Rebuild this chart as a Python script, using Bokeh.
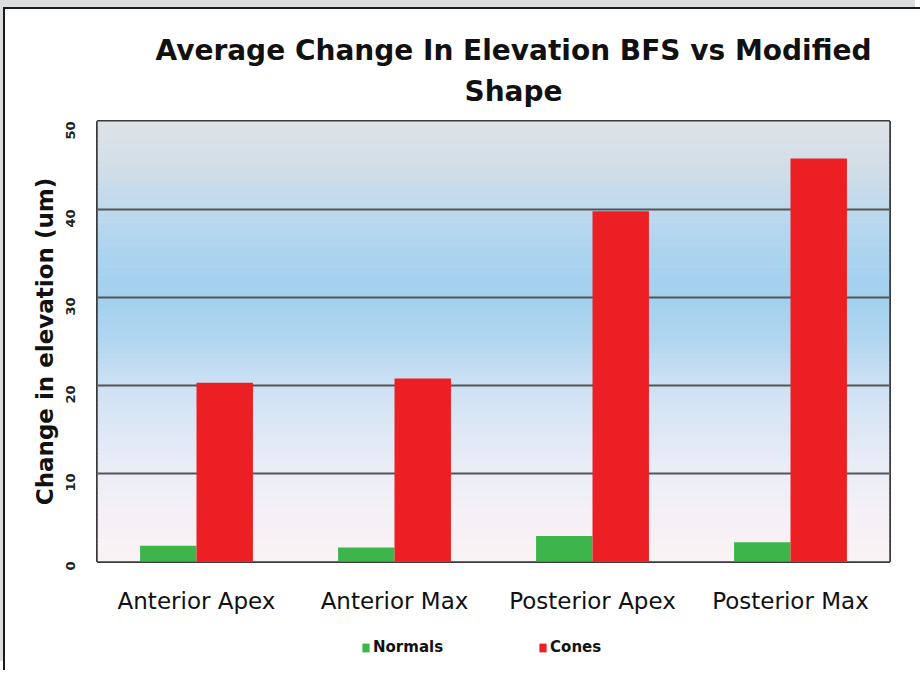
import numpy as np
from bokeh.plotting import figure
from bokeh.layouts import column
from bokeh.models import (FactorRange, Range1d, Legend, LegendItem, Title, FixedTicker,
                          BoxAnnotation, ColumnDataSource)
from bokeh.transform import dodge
from bokeh.embed import file_html
from bokeh.resources import INLINE
import math

# ---- data ----
categories = ["Anterior Apex", "Anterior Max", "Posterior Apex", "Posterior Max"]
normals = [1.8, 1.6, 2.9, 2.2]
cones = [20.3, 20.8, 39.8, 45.8]
y_ticks = [0, 10, 20, 30, 40, 50]
series_names = ["Normals", "Cones"]

title_line1 = "Average Change In Elevation BFS vs Modified"
title_line2 = "Shape"
y_label = "Change in elevation (um)"

FONT = "DejaVu Sans"
GREEN = "#3db54a"
RED = "#ec2024"
W = 915

src = ColumnDataSource(dict(cat=categories, normals=normals, cones=cones))

p = figure(
    width=W, height=612,
    x_range=FactorRange(*categories, range_padding=0),
    y_range=Range1d(0, 50),
    output_backend="svg", toolbar_location=None, tools="",
    title=title_line1,
    min_border_left=92, min_border_right=31, min_border_top=112, min_border_bottom=60,
)
p.border_fill_color = "white"
p.background_fill_color = "white"
p.outline_line_color = "#3a3a3a"
p.outline_line_width = 3

# titles
p.title.text_font = FONT
p.title.text_font_size = "28px"
p.title.text_font_style = "bold"
p.title.text_color = "#111111"
p.title.align = "left"
p.title.offset = 58
p.title.standoff = -14
p.add_layout(Title(text=title_line2, text_font=FONT, text_font_size="28px",
                   text_color="#111111", text_font_style="bold", text_line_height=1.0,
                   align="left", offset=367, standoff=27), "above")

# gradient background (style only)
stops_y = np.array([0, 5, 10, 15, 20, 25, 30, 35, 40, 45, 50], dtype=float)
stops_c = np.array([
    [250, 243, 245], [245, 240, 246], [236, 237, 246], [222, 231, 245],
    [205, 225, 243], [178, 214, 240], [162, 208, 238], [172, 212, 239],
    [190, 217, 237], [210, 222, 232], [222, 226, 231]], dtype=float)
nb = 100
edges = np.linspace(0, 50, nb + 1)
for i in range(nb):
    mid = 0.5 * (edges[i] + edges[i + 1])
    c = [int(round(np.interp(mid, stops_y, stops_c[:, k]))) for k in range(3)]
    band = BoxAnnotation(bottom=float(edges[i]), top=float(edges[i + 1]) + 0.05,
                         fill_color="#%02x%02x%02x" % tuple(c), fill_alpha=1.0,
                         line_color=None, level="image")
    p.add_layout(band)

# bars
bw = 0.285
r_norm = p.vbar(x=dodge("cat", -bw / 2, range=p.x_range), top="normals", width=bw,
                source=src, fill_color=GREEN, line_color=None)
r_cone = p.vbar(x=dodge("cat", bw / 2, range=p.x_range), top="cones", width=bw,
                source=src, fill_color=RED, line_color=None)

# grid
p.xgrid.grid_line_color = None
p.ygrid.ticker = FixedTicker(ticks=y_ticks)
p.ygrid.grid_line_color = "#555555"
p.ygrid.grid_line_width = 2

# axes
p.yaxis.ticker = FixedTicker(ticks=y_ticks)
p.yaxis.axis_line_color = None
p.yaxis.major_tick_line_color = None
p.yaxis.minor_tick_line_color = None
p.yaxis.major_label_orientation = math.pi / 2
p.yaxis.major_label_text_font = FONT
p.yaxis.major_label_text_font_size = "13px"
p.yaxis.major_label_text_font_style = "bold"
p.yaxis.major_label_text_color = "#222222"
p.yaxis.major_label_standoff = 21
p.yaxis.axis_label = y_label
p.yaxis.axis_label_text_font = FONT
p.yaxis.axis_label_text_font_size = "23px"
p.yaxis.axis_label_text_font_style = "bold"
p.yaxis.axis_label_text_color = "#111111"
p.yaxis.axis_label_standoff = 1

p.xaxis.axis_line_color = None
p.xaxis.major_tick_line_color = None
p.xaxis.minor_tick_line_color = None
p.xaxis.major_label_text_font = FONT
p.xaxis.major_label_text_font_size = "23px"
p.xaxis.major_label_text_color = "#111111"
p.xaxis.major_label_standoff = 20

# legend strip (separate small figure; zero-height proxy bars only carry the legend style)
lg = figure(width=W, height=49, x_range=Range1d(0, 1), y_range=Range1d(0, 1),
            output_backend="svg", toolbar_location=None, tools="",
            x_axis_location=None, y_axis_location=None,
            min_border=0, min_border_left=0, min_border_right=0,
            min_border_top=0, min_border_bottom=0)
lg.grid.visible = False
lg.outline_line_color = None
lg.border_fill_color = "white"
lg.background_fill_color = "white"
proxy_src = ColumnDataSource(dict(x=[0.5], top=[0.0]))
g_norm = lg.vbar(x="x", top="top", width=0.01, source=proxy_src, fill_color=GREEN, line_color=None)
g_cone = lg.vbar(x="x", top="top", width=0.01, source=proxy_src, fill_color=RED, line_color=None)
legend = Legend(items=[LegendItem(label=series_names[0], renderers=[g_norm]),
                       LegendItem(label=series_names[1], renderers=[g_cone])],
                orientation="horizontal", location=(264, 14),
                label_text_font=FONT, label_text_font_size="15px",
                label_text_font_style="bold", label_text_color="#111111",
                glyph_width=9, glyph_height=11, spacing=95, label_standoff=3,
                border_line_color=None, background_fill_alpha=0,
                margin=0, padding=4)
lg.add_layout(legend)

layout = column(p, lg, spacing=0)
layout.styles = {"border-top": "2px solid #1a1a1a", "border-left": "2px solid #1a1a1a",
                 "margin-top": "7px", "margin-left": "3px",
                 "box-shadow": "-5px -9px 0 0 #dcdddf"}

open("out.html", "w").write(file_html(layout, INLINE))
